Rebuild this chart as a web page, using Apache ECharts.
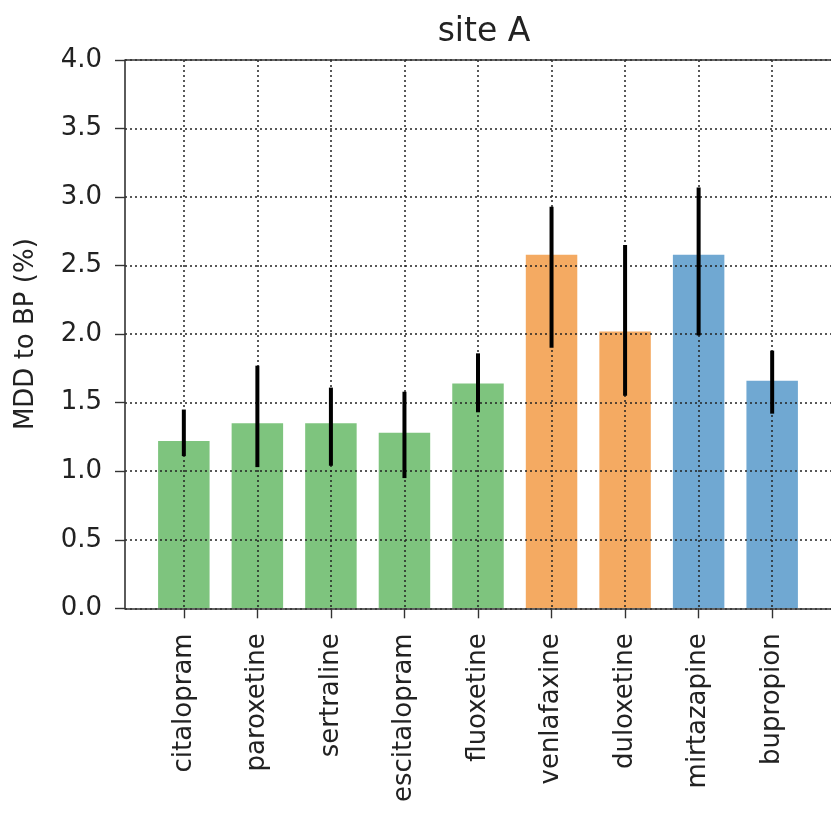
<!DOCTYPE html>
<html>
<head>
<meta charset="utf-8">
<style>
  html, body { margin: 0; padding: 0; background: #fff; }
  #chart { width: 831px; height: 830px; }
</style>
<script src="https://cdn.jsdelivr.net/npm/echarts@6/dist/echarts.min.js"></script>
</head>
<body>
<div id="chart"></div>
<script>
// Antidepressants and their drug class
const drugs = ['citalopram', 'paroxetine', 'sertraline', 'escitalopram', 'fluoxetine',
               'venlafaxine', 'duloxetine', 'mirtazapine', 'bupropion'];
const drugClass = ['SSRI', 'SSRI', 'SSRI', 'SSRI', 'SSRI', 'SNRI', 'SNRI', 'other', 'other'];
// Switch rate MDD -> BP (%) with confidence interval bounds
const rate  = [1.22, 1.35, 1.35, 1.28, 1.64, 2.58, 2.02, 2.58, 1.66];
const ciLow = [1.11, 1.03, 1.04, 0.95, 1.43, 1.90, 1.55, 1.99, 1.42];
const ciHigh= [1.45, 1.77, 1.61, 1.58, 1.86, 2.93, 2.65, 3.07, 1.88];
const yTicks = [0, 0.5, 1.0, 1.5, 2.0, 2.5, 3.0, 3.5, 4.0];

const classColor = { SSRI: '#7ec47e', SNRI: '#f4aa62', other: '#70a8d2' };
const FONT = 'DejaVu Sans';
const BAR_HALF = 0.35;

const chart = echarts.init(document.getElementById('chart'));
const positions = drugs.map((_, i) => i);

const gridLine = { show: true, lineStyle: { color: '#222', type: [2, 3], width: 1.5 } };

chart.setOption({
  backgroundColor: '#fff',
  animation: false,
  title: {
    text: 'site A',
    left: 479, top: 11, textAlign: 'center',
    textStyle: { fontFamily: FONT, fontSize: 33, fontWeight: 'normal', color: '#222' }
  },
  grid: { left: 125, right: -3.4, top: 60, bottom: 221.7, containLabel: false },
  xAxis: {
    type: 'value', min: -0.8, max: 8.8, z: 10,
    axisLine: { show: true, onZero: false, lineStyle: { color: '#333', width: 1.6 } },
    axisTick: { show: true, customValues: positions, length: 10, lineStyle: { color: '#333', width: 1.4 } },
    axisLabel: {
      customValues: positions, rotate: 90, margin: 25,
      fontFamily: FONT, fontSize: 26, color: '#222',
      formatter: v => drugs[Math.round(v)] || ''
    },
    splitLine: gridLine
  },
  yAxis: [{
    type: 'value', min: 0, max: 4, interval: 0.5, z: 10,
    data: yTicks,
    name: 'MDD to BP (%)', nameLocation: 'middle', nameGap: 86, nameRotate: 90,
    nameTextStyle: { fontFamily: FONT, fontSize: 26, color: '#222' },
    axisLine: { show: true, onZero: false, lineStyle: { color: '#333', width: 1.6 } },
    axisTick: { show: true, length: 10, lineStyle: { color: '#333', width: 1.4 } },
    axisLabel: {
      margin: 23, fontFamily: FONT, fontSize: 26, color: '#222',
      formatter: v => v.toFixed(1)
    },
    splitLine: gridLine
  }],
  graphic: [{
    // top frame line of the axes box
    type: 'line', z: 100,
    shape: { x1: 125, y1: 60, x2: 831, y2: 60 },
    style: { stroke: '#333', lineWidth: 1.6 }
  }],
  series: [
    {
      type: 'custom', z: 2,
      data: drugs.map((d, i) => [i, rate[i]]),
      renderItem: (params, api) => {
        const i = api.value(0);
        const p0 = api.coord([i - BAR_HALF, api.value(1)]);
        const p1 = api.coord([i + BAR_HALF, 0]);
        return {
          type: 'rect',
          shape: { x: p0[0], y: p0[1], width: p1[0] - p0[0], height: p1[1] - p0[1] },
          style: { fill: classColor[drugClass[i]] }
        };
      }
    },
    {
      type: 'custom', z: 20,
      data: drugs.map((d, i) => [i, ciLow[i], ciHigh[i]]),
      renderItem: (params, api) => {
        const i = api.value(0);
        const a = api.coord([i, api.value(1)]);
        const b = api.coord([i, api.value(2)]);
        return {
          type: 'line',
          shape: { x1: a[0], y1: a[1], x2: b[0], y2: b[1] },
          style: { stroke: '#000', lineWidth: 4 }
        };
      }
    }
  ]
});
</script>
</body>
</html>
